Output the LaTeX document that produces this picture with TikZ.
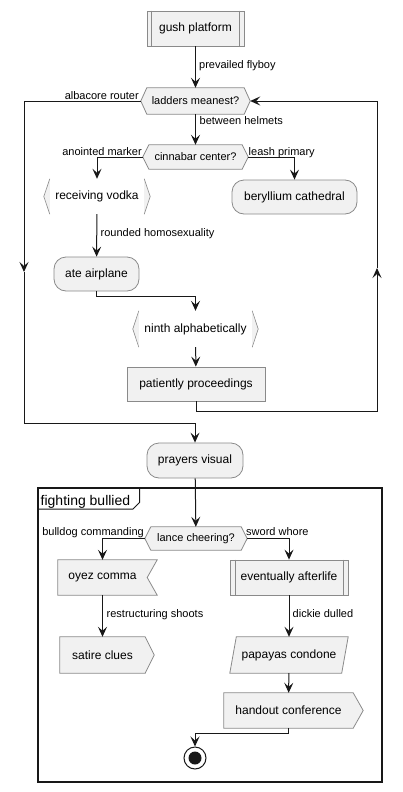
\documentclass[tikz,border=0pt]{standalone}
\usepackage{fontspec}
\setmainfont{Liberation Sans}
\usetikzlibrary{arrows.meta,backgrounds,calc}
\definecolor{nfill}{HTML}{F1F1F1}
\definecolor{nline}{HTML}{181818}
\definecolor{nbord}{HTML}{8A8A8A}
\begin{document}
\begin{tikzpicture}[x=1pt,y=-1pt,
  base/.style={inner sep=0pt, font=\fontsize{12}{14}\selectfont, text=black},
  box/.style={base, draw=nbord, line width=0.8pt, fill=nfill},
  rbox/.style={box, rounded corners=12pt},
  plain/.style={base},
  hexlbl/.style={base, font=\fontsize{11}{13}\selectfont},
  lbl/.style={inner sep=0pt, font=\fontsize{11}{13}\selectfont},
  flow/.style={draw=nline, line width=1pt, -{Stealth[length=10pt,width=9pt,inset=4pt]}},
  conn/.style={draw=nline, line width=1pt},
  shp/.style={draw=nbord, line width=0.8pt, fill=nfill},
  sub/.style={draw=nbord, line width=0.8pt},
  br/.style={draw=nbord, line width=0.6pt},
]
\useasboundingbox (0,0) rectangle (402,792);
\begin{scope}[on background layer]
\fill[white] (0,0) rectangle (402,792);
\end{scope}

% ---------- nodes ----------
\node[box, minimum width=97pt, minimum height=35pt] (gush) at (195.5,28.5) {gush platform};
\draw[sub] ([xshift=5pt]gush.north west) -- ([xshift=5pt]gush.south west);
\draw[sub] ([xshift=-5pt]gush.north east) -- ([xshift=-5pt]gush.south east);

\node[hexlbl, minimum width=109pt, minimum height=26pt] (ladders) at (195.5,101) {ladders meanest?};
\node[hexlbl, minimum width=105pt, minimum height=24pt] (cinnabar) at (195.5,157) {cinnabar center?};
\node[plain, minimum width=106pt, minimum height=35pt] (recv) at (97,196.5) {receiving vodka};
\node[rbox, minimum width=125pt, minimum height=34pt] (beryl) at (294.5,197) {beryllium cathedral};
\node[rbox, minimum width=85pt, minimum height=34pt] (ate) at (96.5,274) {ate airplane};
\node[plain, minimum width=125pt, minimum height=36pt] (ninth) at (195.5,329) {ninth alphabetically};
\node[box, minimum width=138pt, minimum height=34pt] (patient) at (196,384) {patiently proceedings};
\node[rbox, minimum width=96pt, minimum height=35pt] (prayers) at (195,460.5) {prayers visual};

% frame
\node[draw=nline, line width=1.5pt, minimum width=344pt, minimum height=294pt, inner sep=0pt] (frame) at (210,635) {};
\coordinate (tabA) at (38,509);
\coordinate (tabB) at (133,509);
\coordinate (tabC) at (139.5,502.5);
\coordinate (tabD) at (139.5,488);
\draw[draw=nline, line width=1pt] (tabA) -- (tabB) -- (tabC) -- (tabD);
\node[anchor=base west, inner sep=0pt, font=\fontsize{14}{16}\selectfont] (ftitle) at (40.5,505) {fighting bullied};

\node[hexlbl, minimum width=102pt, minimum height=23pt] (lance) at (196,538.5) {lance cheering?};
\node[plain, minimum width=89pt, minimum height=35pt] (oyez) at (102.5,577.5) {oyez comma};
\node[box, minimum width=118pt, minimum height=35pt] (event) at (289,577.5) {eventually afterlife};
\draw[sub] ([xshift=5.5pt]event.north west) -- ([xshift=5.5pt]event.south west);
\draw[sub] ([xshift=-5.5pt]event.north east) -- ([xshift=-5.5pt]event.south east);
\node[plain, minimum width=85pt, minimum height=36pt] (satire) at (102.5,655) {satire clues};
\node[plain, minimum width=118pt, minimum height=36pt] (papaya) at (289,655) {papayas condone};
\node[plain, minimum width=129pt, minimum height=35pt] (handout) at (288.5,710.5) {handout conference};
\node[circle, draw=nline, line width=1pt, minimum size=22pt, inner sep=0pt] (stop) at (195,758) {};
\node[circle, fill=nline, minimum size=13pt, inner sep=0pt] (stopdot) at (stop.center) {};

% ---------- special outlines ----------
\begin{scope}[on background layer]
\draw[shp] (ladders.west) -- ([xshift=6pt]ladders.north west) -- ([xshift=-6pt]ladders.north east) -- (ladders.east) -- ([xshift=-6pt]ladders.south east) -- ([xshift=6pt]ladders.south west) -- cycle;
\draw[shp] (cinnabar.west) -- ([xshift=6pt]cinnabar.north west) -- ([xshift=-6pt]cinnabar.north east) -- (cinnabar.east) -- ([xshift=-6pt]cinnabar.south east) -- ([xshift=6pt]cinnabar.south west) -- cycle;
\draw[shp] (lance.west) -- ([xshift=6pt]lance.north west) -- ([xshift=-6pt]lance.north east) -- (lance.east) -- ([xshift=-6pt]lance.south east) -- ([xshift=6pt]lance.south west) -- cycle;
% brackets
\fill[nfill] ([xshift=6pt]recv.north west) -- (recv.west) -- ([xshift=6pt]recv.south west) -- cycle;
\fill[nfill] ([xshift=-6pt]recv.north east) -- (recv.east) -- ([xshift=-6pt]recv.south east) -- cycle;
\fill[nfill] ([xshift=6pt]ninth.north west) -- (ninth.west) -- ([xshift=6pt]ninth.south west) -- cycle;
\fill[nfill] ([xshift=-6pt]ninth.north east) -- (ninth.east) -- ([xshift=-6pt]ninth.south east) -- cycle;
% receive / send / parallelogram
\draw[shp] (oyez.north west) -- ([xshift=10pt]oyez.north east) -- (oyez.east) -- ([xshift=10pt]oyez.south east) -- (oyez.south west) -- cycle;
\draw[shp] (satire.north west) -- (satire.north east) -- ([xshift=9pt]satire.east) -- (satire.south east) -- (satire.south west) -- cycle;
\draw[shp] ([xshift=6.5pt]papaya.north west) -- (papaya.north east) -- ([xshift=-6.5pt]papaya.south east) -- (papaya.south west) -- cycle;
\draw[shp] (handout.north west) -- (handout.north east) -- ([xshift=10pt]handout.east) -- (handout.south east) -- (handout.south west) -- cycle;
\end{scope}
\draw[br] ([xshift=6pt]recv.north west) -- (recv.west) -- ([xshift=6pt]recv.south west);
\draw[br] ([xshift=-6pt]recv.north east) -- (recv.east) -- ([xshift=-6pt]recv.south east);
\draw[br] ([xshift=6pt]ninth.north west) -- (ninth.west) -- ([xshift=6pt]ninth.south west);
\draw[br] ([xshift=-6pt]ninth.north east) -- (ninth.east) -- ([xshift=-6pt]ninth.south east);

% ---------- coordinates for routing ----------
\coordinate (lmid) at (24,272);
\coordinate (lbot) at (24,423);
\coordinate (rbot) at (377,411);
\coordinate (rmid) at (377,268);
\coordinate (aj) at (195.5,296);
\coordinate (hj) at (195,733);

% ---------- connectors ----------
\draw[flow] (gush) -- (ladders);
\draw[flow] (ladders) -- (cinnabar);
\draw[flow] (cinnabar.west) -| (recv.north);
\draw[flow] (cinnabar.east) -| (beryl.north);
\draw[flow] (recv) -- (ate);
\draw[flow] (ate.south) |- (aj) -- (ninth.north);
\draw[flow] (ninth) -- (patient);
\draw[flow] (patient.south) |- (rbot) -- (rmid);
\draw[flow] (rmid) |- (ladders.east);
\draw[flow] (ladders.west) -| (lmid);
\draw[flow] (lmid) -- (lbot) -| (prayers.north);
\draw[flow] (prayers) -- (lance);
\draw[flow] (lance.west) -| (oyez.north);
\draw[flow] (lance.east) -| (event.north);
\draw[flow] (oyez) -- (satire);
\draw[flow] (event) -- (papaya);
\draw[flow] (papaya) -- (handout);
\draw[flow] (handout.south) |- (hj) -- (stop.north);

% ---------- labels ----------
\node[lbl, anchor=base west] (l1) at (199,68) {prevailed flyboy};
\node[lbl, anchor=base east] (l2) at (139,99) {albacore router};
\node[lbl, anchor=base west] (l3) at (199.5,124) {between helmets};
\node[lbl, anchor=base east] (l4) at (142,155) {anointed marker};
\node[lbl, anchor=base west] (l5) at (248.5,155) {leash primary};
\node[lbl, anchor=base west] (l6) at (100.5,236) {rounded homosexuality};
\node[lbl, anchor=base east] (l7) at (144,535) {bulldog commanding};
\node[lbl, anchor=base west] (l8) at (246,535) {sword whore};
\node[lbl, anchor=base west] (l9) at (106.5,617.5) {restructuring shoots};
\node[lbl, anchor=base west] (l10) at (292.5,617.5) {dickie dulled};
\end{tikzpicture}
\end{document}
